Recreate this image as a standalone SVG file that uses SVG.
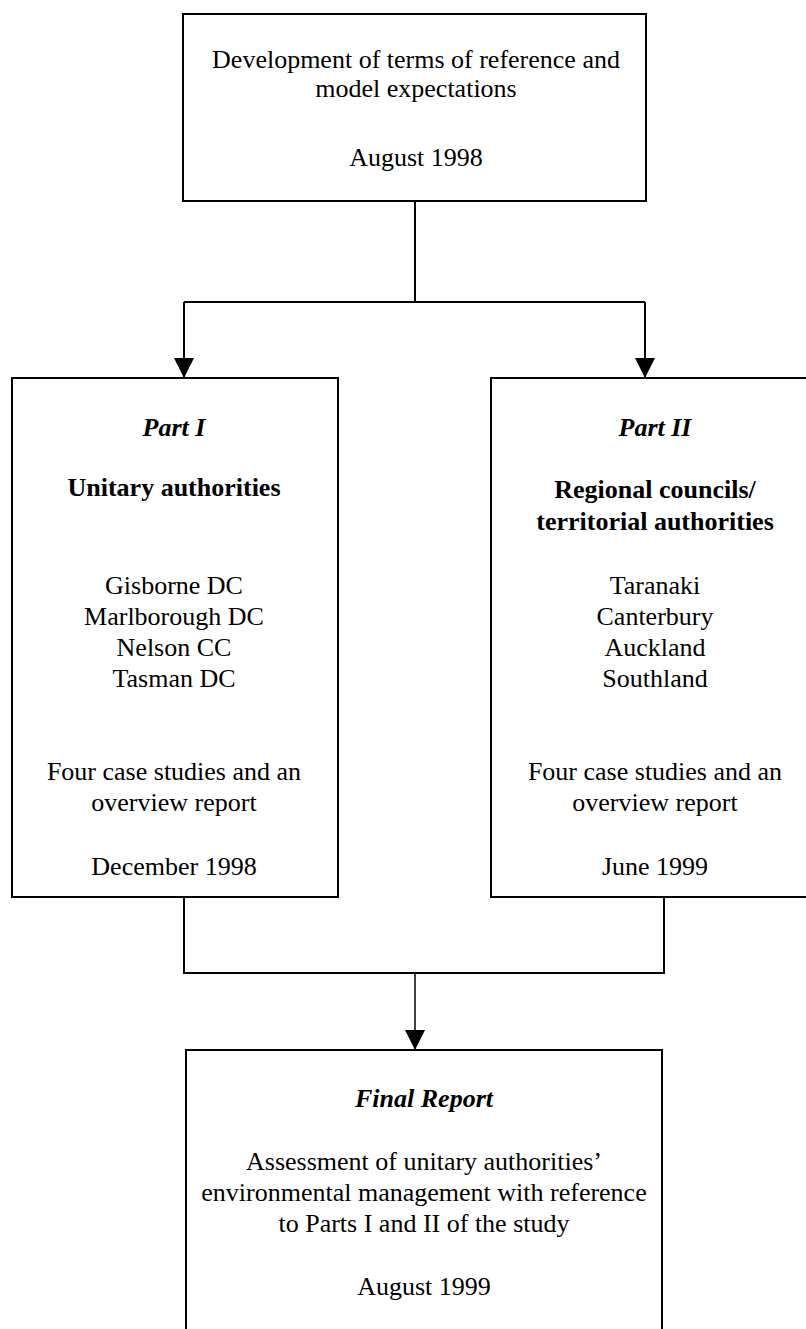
<svg xmlns="http://www.w3.org/2000/svg" width="806" height="1329" viewBox="0 0 806 1329">
<style>
  .box { fill: #ffffff; stroke: #000000; stroke-width: 2; }
  .t { font-family: "Liberation Serif", "Times New Roman", serif; font-size: 26px; fill: #000000; text-anchor: middle; }
  .b { font-weight: bold; }
  .bi { font-weight: bold; font-style: italic; }
  .conn { fill: none; stroke: #000000; stroke-width: 2; }
</style>
<defs>
  <marker id="arrow" markerUnits="userSpaceOnUse" markerWidth="20" markerHeight="20" viewBox="0 0 20 20" refX="20" refY="10" orient="auto">
    <path d="M0,0 L20,10 L0,20 z" fill="#000000"/>
  </marker>
</defs>
<rect width="806" height="1329" fill="#ffffff"/>

<g id="connectors">
  <path class="conn" d="M415 201 V302"/>
  <path class="conn" d="M184 302 H645"/>
  <path class="conn" d="M184 302 V378" marker-end="url(#arrow)"/>
  <path class="conn" d="M645 302 V378" marker-end="url(#arrow)"/>
  <path class="conn" d="M184 897 V973 H664 V897"/>
  <path class="conn" d="M415 973 V1050" style="stroke-width:1.5" marker-end="url(#arrow)"/>
</g>

<g id="node-terms">
  <rect class="box" x="183" y="14" width="463" height="187"/>
  <text class="t" x="416" y="68">Development of terms of reference and</text>
  <text class="t" x="416" y="97">model expectations</text>
  <text class="t" x="416" y="166">August 1998</text>
</g>

<g id="node-part1">
  <rect class="box" x="12" y="378" width="326" height="519"/>
  <text class="t bi" x="174" y="436">Part I</text>
  <text class="t b" x="174" y="496">Unitary authorities</text>
  <text class="t" x="174" y="594">Gisborne DC</text>
  <text class="t" x="174" y="625">Marlborough DC</text>
  <text class="t" x="174" y="656">Nelson CC</text>
  <text class="t" x="174" y="687">Tasman DC</text>
  <text class="t" x="174" y="780">Four case studies and an</text>
  <text class="t" x="174" y="811">overview report</text>
  <text class="t" x="174" y="875">December 1998</text>
</g>

<g id="node-part2">
  <rect class="box" x="491" y="378" width="328" height="519"/>
  <text class="t bi" x="655" y="436">Part II</text>
  <text class="t b" x="655" y="498">Regional councils/</text>
  <text class="t b" x="655" y="530">territorial authorities</text>
  <text class="t" x="655" y="594">Taranaki</text>
  <text class="t" x="655" y="625">Canterbury</text>
  <text class="t" x="655" y="656">Auckland</text>
  <text class="t" x="655" y="687">Southland</text>
  <text class="t" x="655" y="780">Four case studies and an</text>
  <text class="t" x="655" y="811">overview report</text>
  <text class="t" x="655" y="875">June 1999</text>
</g>

<g id="node-final">
  <rect class="box" x="186" y="1050" width="476" height="300"/>
  <text class="t bi" x="424" y="1107">Final Report</text>
  <text class="t" x="424" y="1170">Assessment of unitary authorities’</text>
  <text class="t" x="424" y="1201">environmental management with reference</text>
  <text class="t" x="424" y="1232">to Parts I and II of the study</text>
  <text class="t" x="424" y="1295">August 1999</text>
</g>
</svg>
